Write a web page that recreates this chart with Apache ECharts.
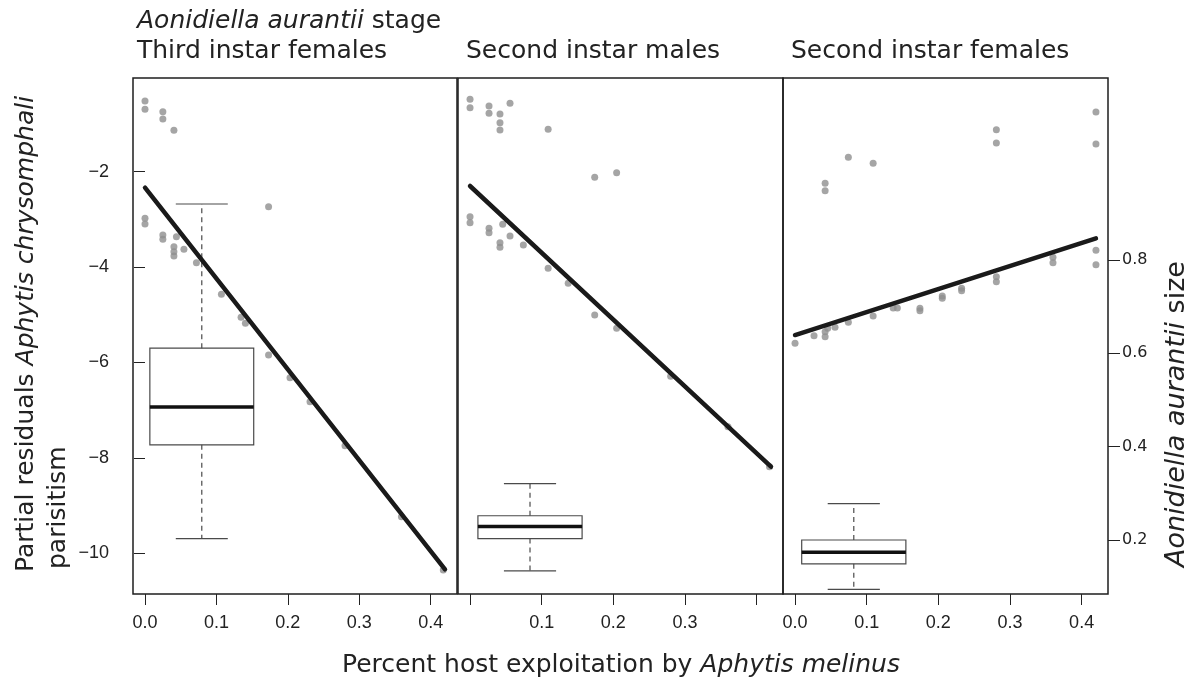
<!DOCTYPE html>
<html><head><meta charset="utf-8">
<script src="https://cdn.jsdelivr.net/npm/echarts@6/dist/echarts.min.js"></script>
<style>html,body{margin:0;padding:0;background:#fff}#c{width:1195px;height:681px}</style>
</head><body><div id="c"></div>
<script>
// ---------- data ----------
const panelTitles = ['Third instar females', 'Second instar males', 'Second instar females'];
const xTicks = [0, 0.1, 0.2, 0.3, 0.4];
const xLabelsPanel1 = [0, 0.1, 0.2, 0.3, 0.4];
const xLabelsPanel2 = [0.1, 0.2, 0.3];
const xLabelsPanel3 = [0, 0.1, 0.2, 0.3, 0.4];
const residTicks = [-2, -4, -6, -8, -10];
const sizeTicks = [0.2, 0.4, 0.6, 0.8];

// Third instar females: exploitation vs partial residuals
const thirdFemalesX = [0, 0, 0.025, 0.025, 0.0405, 0.173, 0, 0, 0.025, 0.025, 0.044, 0.0405, 0.0405, 0.0405, 0.0545, 0.072, 0.107, 0.1345, 0.1406, 0.173, 0.203, 0.231, 0.28, 0.359, 0.4176];
const thirdFemalesResid = [-0.518, -0.692, -0.742, -0.895, -1.132, -2.734, -2.977, -3.096, -3.327, -3.417, -3.363, -3.572, -3.677, -3.767, -3.627, -3.908, -4.57, -5.053, -5.178, -5.843, -6.319, -6.822, -7.744, -9.233, -10.35];

// Second instar males
const secondMalesX = [0, 0, 0.0265, 0.0265, 0.0558, 0.0418, 0.0418, 0.0418, 0.109, 0.174, 0.2046, 0, 0, 0.0265, 0.0265, 0.0456, 0.0418, 0.0418, 0.0558, 0.0744, 0.109, 0.137, 0.174, 0.2046, 0.28, 0.36, 0.418];
const secondMalesResid = [-0.482, -0.658, -0.623, -0.776, -0.566, -0.79, -0.973, -1.126, -1.111, -2.117, -2.02, -2.943, -3.069, -3.187, -3.279, -3.103, -3.488, -3.585, -3.348, -3.537, -4.025, -4.34, -5.004, -5.283, -6.29, -7.346, -8.185];

// Second instar females
const secondFemalesX = [0.42, 0.42, 0.281, 0.281, 0.0744, 0.109, 0.042, 0.042, 0.42, 0.42, 0.36, 0.36, 0.281, 0.281, 0.2325, 0.2325, 0.2055, 0.2055, 0.1743, 0.1743, 0.137, 0.1428, 0.109, 0.0744, 0.0558, 0.042, 0.042, 0.0265, 0.0456, 0];
const secondFemalesResid = [-0.748, -1.419, -1.119, -1.398, -1.698, -1.824, -2.243, -2.398, -3.648, -3.95, -3.795, -3.908, -4.2, -4.306, -4.444, -4.495, -4.606, -4.654, -4.864, -4.914, -4.857, -4.857, -5.025, -5.157, -5.262, -5.354, -5.459, -5.438, -5.283, -5.598];

// fitted lines (x ends and fitted residuals)
const fitX = [0, 0.42];
const thirdFemalesFit = [-2.335, -10.336];
const secondMalesFit = [-2.30, -8.185];
const secondFemalesFit = [-5.424, -3.397];

// size boxplots: [position, lower whisker, Q1, median, Q3, upper whisker]
const thirdFemalesSizeBox = [0.0795, 0.203, 0.404, 0.485, 0.611, 0.920];
const secondMalesSizeBox = [0.0837, 0.134, 0.203, 0.229, 0.252, 0.321];
const secondFemalesSizeBox = [0.082, 0.094, 0.149, 0.174, 0.200, 0.278];

// ---------- chart ----------
const X_MIN = -0.0168, X_MAX = 0.4368;
const R_MIN = -10.853, R_MAX = -0.036;
const S_MIN = 0.0843, S_MAX = 1.19;
const BOX_HALF = 0.0727, CAP_HALF = 0.0364;

const chart = echarts.init(document.getElementById('c'), null, {renderer: 'canvas'});
const gridLefts = [133, 458, 783];
const gridWidths = [324, 325, 325];
const tickFont = 'Liberation Sans';

const grids = gridLefts.map((l, i) => ({
  left: l, top: 78, width: gridWidths[i], height: 516,
  show: true, borderColor: '#1e1e1e', borderWidth: 1.5, backgroundColor: 'transparent'
}));
const xLabelSets = [xLabelsPanel1, xLabelsPanel2, xLabelsPanel3];
const xAxes = xLabelSets.map((labels, i) => ({
  type: 'value', gridIndex: i, min: X_MIN, max: X_MAX,
  axisLine: {show: false}, splitLine: {show: false},
  axisTick: {show: true, inside: false, length: 11, customValues: xTicks, lineStyle: {color: '#222', width: 1}},
  axisLabel: {show: true, customValues: labels, margin: 20, fontFamily: tickFont, fontSize: 18, color: '#222',
    formatter: v => Number(v).toFixed(1)}
}));
const yAxes = [];
for (let i = 0; i < 3; i++) {
  yAxes.push({
    type: 'value', gridIndex: i, min: R_MIN, max: R_MAX, position: 'left',
    axisLine: {show: false}, splitLine: {show: false},
    axisTick: {show: i === 0, length: 11, customValues: residTicks, lineStyle: {color: '#222'}},
    axisLabel: {show: i === 0, customValues: residTicks, margin: 24, fontFamily: tickFont, fontSize: 18, color: '#222',
      formatter: v => String(v).replace('-', '\u2212')}
  });
  yAxes.push({
    type: 'value', gridIndex: i, min: S_MIN, max: S_MAX, position: 'right',
    axisLine: {show: false}, splitLine: {show: false},
    axisTick: {show: i === 2, length: 12, customValues: sizeTicks, lineStyle: {color: '#222'}},
    axisLabel: {show: i === 2, customValues: sizeTicks, margin: 14, fontFamily: 'DejaVu Sans', fontSize: 16, color: '#222',
      formatter: v => Number(v).toFixed(1)}
  });
}

function zip(a, b) { return a.map((v, k) => [v, b[k]]); }

function renderBox(params, api) {
  const c = api.value(0), lo = api.value(1), q1 = api.value(2), med = api.value(3), q3 = api.value(4), hi = api.value(5);
  const tl = api.coord([c - BOX_HALF, q3]);
  const br = api.coord([c + BOX_HALF, q1]);
  const mL = api.coord([c - BOX_HALF, med]);
  const mR = api.coord([c + BOX_HALF, med]);
  const top = api.coord([c, hi]);
  const bot = api.coord([c, lo]);
  const capL = api.coord([c - CAP_HALF, hi])[0];
  const capR = api.coord([c + CAP_HALF, hi])[0];
  const cx = top[0];
  const grey = '#4a4a4a';
  return {type: 'group', children: [
    {type: 'line', shape: {x1: cx, y1: tl[1], x2: cx, y2: top[1]}, style: {stroke: grey, lineWidth: 1.2, lineDash: [5, 4]}},
    {type: 'line', shape: {x1: cx, y1: br[1], x2: cx, y2: bot[1]}, style: {stroke: grey, lineWidth: 1.2, lineDash: [5, 4]}},
    {type: 'line', shape: {x1: capL, y1: top[1], x2: capR, y2: top[1]}, style: {stroke: grey, lineWidth: 1.2}},
    {type: 'line', shape: {x1: capL, y1: bot[1], x2: capR, y2: bot[1]}, style: {stroke: grey, lineWidth: 1.2}},
    {type: 'rect', shape: {x: tl[0], y: tl[1], width: br[0] - tl[0], height: br[1] - tl[1]}, style: {fill: 'none', stroke: grey, lineWidth: 1.2}},
    {type: 'line', shape: {x1: mL[0], y1: mL[1], x2: mR[0], y2: mR[1]}, style: {stroke: '#111', lineWidth: 3.5}}
  ]};
}

const panels = [
  {x: thirdFemalesX, y: thirdFemalesResid, fit: thirdFemalesFit, box: thirdFemalesSizeBox},
  {x: secondMalesX, y: secondMalesResid, fit: secondMalesFit, box: secondMalesSizeBox},
  {x: secondFemalesX, y: secondFemalesResid, fit: secondFemalesFit, box: secondFemalesSizeBox}
];
const series = [];
panels.forEach((p, i) => {
  series.push({type: 'custom', xAxisIndex: i, yAxisIndex: 2 * i + 1, renderItem: renderBox,
    data: [p.box], silent: true, z: 1});
  series.push({type: 'scatter', xAxisIndex: i, yAxisIndex: 2 * i, data: zip(p.x, p.y),
    symbol: 'circle', symbolSize: 7, itemStyle: {color: '#8e8e8e'}, silent: true, z: 2});
  series.push({type: 'line', xAxisIndex: i, yAxisIndex: 2 * i, data: zip(fitX, p.fit),
    symbol: 'none', lineStyle: {color: '#1a1a1a', width: 4.5, cap: 'round'}, silent: true, z: 3});
});

function richFor(size) {
  return {
    i: {fontFamily: 'DejaVu Sans', fontSize: size, fontStyle: 'italic', fill: '#222', color: '#222'},
    n: {fontFamily: 'DejaVu Sans', fontSize: size, fill: '#222', color: '#222'}
  };
}
function txt(x, y, text, size, opts) {
  return Object.assign({type: 'text', x: x, y: y, silent: true,
    style: {text: text, rich: richFor(size), fontFamily: 'DejaVu Sans', fontSize: size, fill: '#222',
      align: 'left', verticalAlign: 'middle'}}, opts || {});
}
const graphics = [
  txt(137, 21, '{i|Aonidiella aurantii}{n| stage}', 25),
  txt(137, 51, '{n|' + panelTitles[0] + '}', 25),
  txt(466, 51, '{n|' + panelTitles[1] + '}', 25),
  txt(791, 51, '{n|' + panelTitles[2] + '}', 25),
  txt(621, 665, '{n|Percent host exploitation by }{i|Aphytis melinus}', 25),
  txt(26, 572, '{n|Partial residuals }{i|Aphytis chrysomphali}', 25, {rotation: Math.PI / 2}),
  txt(58, 569, '{n|parisitism}', 25, {rotation: Math.PI / 2}),
  txt(1177, 567, '{i|Aonidiella aurantii}{n| size}', 27, {rotation: Math.PI / 2})
];
graphics[4].style.align = 'center';

chart.setOption({
  animation: false,
  backgroundColor: '#ffffff',
  grid: grids,
  xAxis: xAxes,
  yAxis: yAxes,
  series: series,
  graphic: graphics
});
</script></body></html>
